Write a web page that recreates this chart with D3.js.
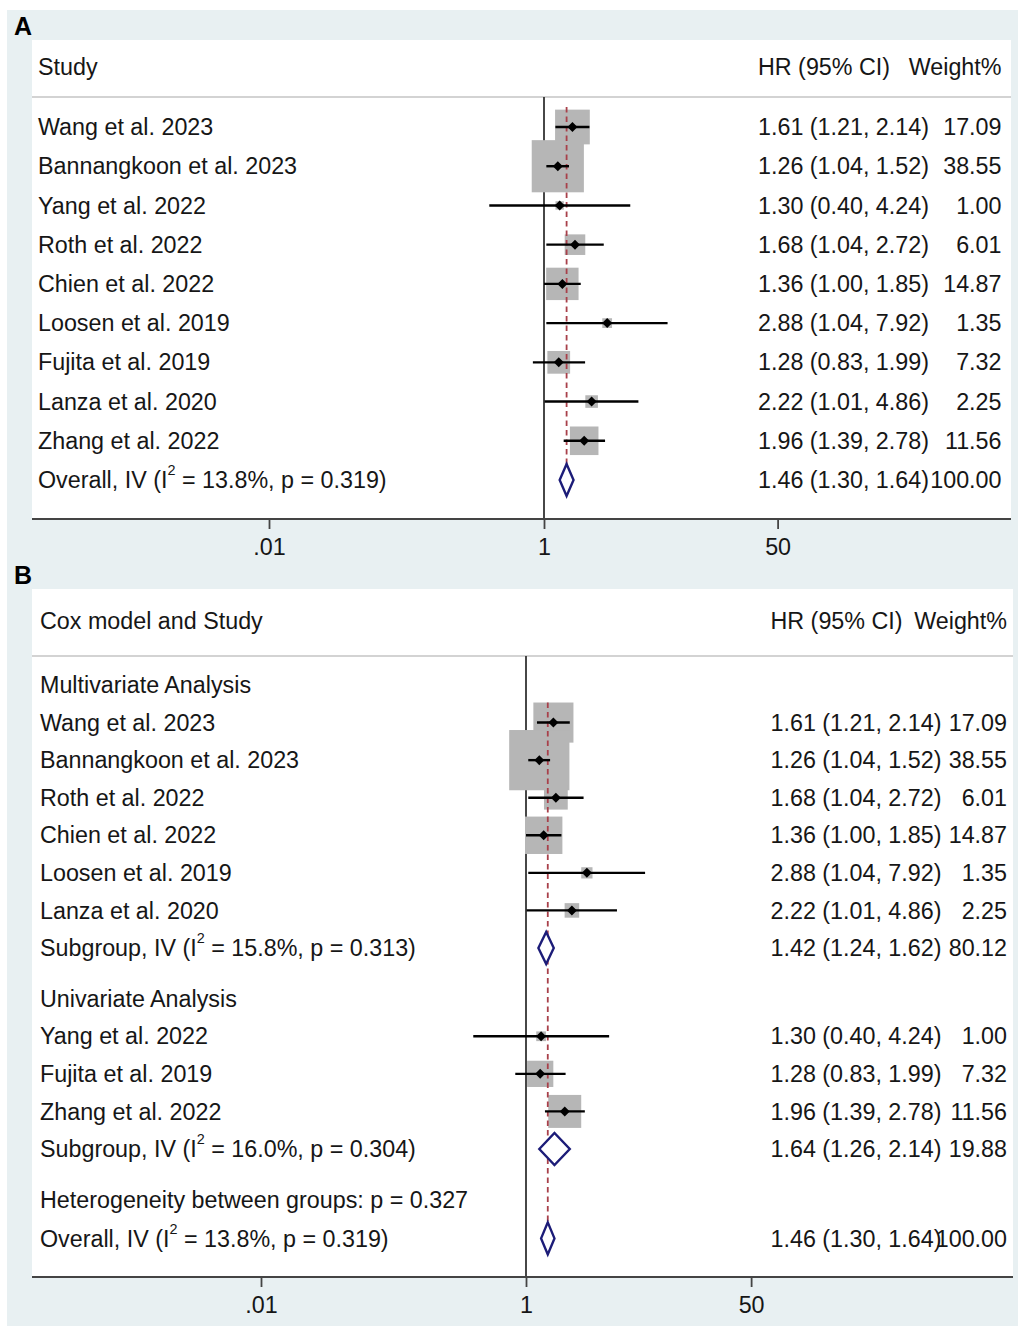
<!DOCTYPE html>
<html>
<head>
<meta charset="utf-8">
<script src="https://cdn.jsdelivr.net/npm/d3@7"></script>
<style>
  html, body { margin: 0; padding: 0; background: #ffffff; }
  svg { display: block; font-family: "Liberation Sans", Arial, Helvetica, sans-serif; }
</style>
</head>
<body>
<svg id="chart" width="1022" height="1326"></svg>
<script>
// ---- Study-level hazard ratios ----
const studyNames = ["Wang et al. 2023", "Bannangkoon et al. 2023", "Yang et al. 2022", "Roth et al. 2022",
  "Chien et al. 2022", "Loosen et al. 2019", "Fujita et al. 2019", "Lanza et al. 2020", "Zhang et al. 2022"];
const hrValues = [1.61, 1.26, 1.30, 1.68, 1.36, 2.88, 1.28, 2.22, 1.96];
const ciLower  = [1.21, 1.04, 0.40, 1.04, 1.00, 1.04, 0.83, 1.01, 1.39];
const ciUpper  = [2.14, 1.52, 4.24, 2.72, 1.85, 7.92, 1.99, 4.86, 2.78];
const weightPct = [17.09, 38.55, 1.00, 6.01, 14.87, 1.35, 7.32, 2.25, 11.56];
const coxModel = ["Multivariate", "Multivariate", "Univariate", "Multivariate", "Multivariate",
  "Multivariate", "Univariate", "Multivariate", "Univariate"];

// ---- Pooled estimates (inverse-variance) ----
const groupNames   = ["Multivariate", "Univariate"];
const groupTitles  = ["Multivariate Analysis", "Univariate Analysis"];
const groupHR      = [1.42, 1.64];
const groupLower   = [1.24, 1.26];
const groupUpper   = [1.62, 2.14];
const groupWeight  = [80.12, 19.88];
const groupI2      = [15.8, 16.0];
const groupP       = [0.313, 0.304];
const overall      = { hr: 1.46, lo: 1.30, hi: 1.64, weight: 100.00, i2: 13.8, p: 0.319 };
const heterogeneityBetweenP = 0.327;

// ---- Axis ticks ----
const tickValues = [0.01, 1, 50];
const tickLabels = [".01", "1", "50"];

const FONT = 23.3;
const INK = "#161616";
const svg = d3.select("#chart");

const fmt2 = d3.format(".2f");
const ciText = (h, l, u) => `${fmt2(h)} (${fmt2(l)}, ${fmt2(u)})`;

// Frame background
svg.append("rect").attr("x", 7).attr("y", 10).attr("width", 1011).attr("height", 1316).attr("fill", "#e8f0f2");

function pooledLabel(sel, prefix, i2, p) {
  sel.append("tspan").text(prefix + " (I");
  sel.append("tspan").attr("font-size", FONT * 0.62).attr("dy", "-0.9em").text("2");
  sel.append("tspan").attr("dy", "0.56em").text(` = ${i2.toFixed(1)}%, p = ${p.toFixed(3)})`);
}

function drawPanel(cfg) {
  const g = svg.append("g");
  const x = cfg.x;

  // Plot region
  g.append("rect").attr("x", cfg.left).attr("y", cfg.top)
    .attr("width", cfg.right - cfg.left).attr("height", cfg.axisY - cfg.top).attr("fill", "#ffffff");

  // Panel letter
  g.append("text").attr("x", 14).attr("y", cfg.top - 5).attr("font-size", 25).attr("font-weight", "bold")
    .attr("fill", "#000").text(cfg.letter);

  // Header
  g.append("line").attr("x1", cfg.left).attr("x2", cfg.right).attr("y1", cfg.headerLineY).attr("y2", cfg.headerLineY)
    .attr("stroke", "#c4c4c4").attr("stroke-width", 1.6);
  g.append("text").attr("x", cfg.textX).attr("y", cfg.headerY).attr("dy", "0.35em")
    .attr("font-size", FONT).attr("fill", INK).text(cfg.headerLeft);
  g.append("text").attr("x", cfg.ciX).attr("y", cfg.headerY).attr("dy", "0.35em")
    .attr("font-size", FONT).attr("fill", INK).text("HR (95% CI)");
  g.append("text").attr("x", cfg.wX).attr("y", cfg.headerY).attr("dy", "0.35em").attr("text-anchor", "end")
    .attr("font-size", FONT).attr("fill", INK).text("Weight%");

  // Line of no effect
  g.append("line").attr("x1", x(1)).attr("x2", x(1)).attr("y1", cfg.headerLineY).attr("y2", cfg.axisY)
    .attr("stroke", "#333").attr("stroke-width", 1.8);

  const rows = cfg.rows;
  const studyRows = rows.filter(r => r.type === "study");
  const diamondRows = rows.filter(r => r.type === "pooled");

  // Weight boxes
  g.selectAll("rect.box").data(studyRows).join("rect").attr("class", "box")
    .attr("x", r => x(r.hr) - cfg.k * Math.sqrt(r.w) / 2)
    .attr("y", r => r.y - cfg.k * Math.sqrt(r.w) / 2)
    .attr("width", r => cfg.k * Math.sqrt(r.w))
    .attr("height", r => cfg.k * Math.sqrt(r.w))
    .attr("fill", "#b6b6b6");

  // Overall effect reference line
  const overallRow = diamondRows[diamondRows.length - 1];
  g.append("line").attr("x1", x(overall.hr)).attr("x2", x(overall.hr))
    .attr("y1", studyRows[0].y - 20).attr("y2", overallRow.y + 16)
    .attr("stroke", "#a8404a").attr("stroke-width", 1.8).attr("stroke-dasharray", "5.5,4");

  // Confidence intervals
  g.selectAll("line.ci").data(studyRows).join("line").attr("class", "ci")
    .attr("x1", r => x(r.lo)).attr("x2", r => x(r.hi)).attr("y1", r => r.y).attr("y2", r => r.y)
    .attr("stroke", "#000").attr("stroke-width", 2.4);

  // Point estimates
  const m = 5;
  g.selectAll("path.pt").data(studyRows).join("path").attr("class", "pt")
    .attr("d", r => `M${x(r.hr) - m},${r.y}L${x(r.hr)},${r.y - m}L${x(r.hr) + m},${r.y}L${x(r.hr)},${r.y + m}Z`)
    .attr("fill", "#000");

  // Pooled diamonds
  g.selectAll("path.diamond").data(diamondRows).join("path").attr("class", "diamond")
    .attr("d", r => `M${x(r.lo)},${r.y}L${x(r.hr)},${r.y - 16}L${x(r.hi)},${r.y}L${x(r.hr)},${r.y + 16}Z`)
    .attr("fill", "#fff").attr("stroke", "#1c1c78").attr("stroke-width", 2.4).attr("stroke-linejoin", "miter");

  // Row labels
  rows.forEach(r => {
    const t = g.append("text").attr("x", cfg.textX).attr("y", r.y).attr("dy", "0.35em")
      .attr("font-size", FONT).attr("fill", INK);
    if (r.type === "pooled") pooledLabel(t, r.prefix, r.i2, r.p);
    else t.text(r.label);
    if (r.type === "study" || r.type === "pooled") {
      g.append("text").attr("x", cfg.ciX).attr("y", r.y).attr("dy", "0.35em")
        .attr("font-size", FONT).attr("fill", INK).text(ciText(r.hr, r.lo, r.hi));
      g.append("text").attr("x", cfg.wX).attr("y", r.y).attr("dy", "0.35em").attr("text-anchor", "end")
        .attr("font-size", FONT).attr("fill", INK).text(fmt2(r.w));
    }
  });

  // Axis
  g.append("line").attr("x1", cfg.left).attr("x2", cfg.right).attr("y1", cfg.axisY).attr("y2", cfg.axisY)
    .attr("stroke", "#444").attr("stroke-width", 2);
  const axis = d3.axisBottom(x).tickValues(tickValues)
    .tickFormat((d, i) => tickLabels[i]).tickSize(10).tickPadding(9);
  const ax = g.append("g").attr("transform", `translate(0,${cfg.axisY})`).call(axis);
  ax.select(".domain").remove();
  ax.selectAll(".tick line").attr("stroke", "#444").attr("stroke-width", 1.8);
  ax.selectAll(".tick text").attr("font-size", FONT).attr("fill", INK)
    .attr("font-family", "\"Liberation Sans\", Arial, sans-serif");
}

// ---- Panel A: all studies ----
const yA = d3.scaleLinear().domain([0, 9]).range([127, 480]);
const rowsA = studyNames.map((name, i) => ({
  type: "study", label: name, hr: hrValues[i], lo: ciLower[i], hi: ciUpper[i], w: weightPct[i], y: yA(i)
}));
rowsA.push({ type: "pooled", prefix: "Overall, IV", hr: overall.hr, lo: overall.lo, hi: overall.hi,
  w: overall.weight, i2: overall.i2, p: overall.p, y: yA(9) });

drawPanel({
  letter: "A", top: 40, left: 32, right: 1011, axisY: 519, headerLineY: 97, headerY: 67,
  headerLeft: "Study", textX: 38, ciX: 758, wX: 1001.5, k: 8.4,
  x: d3.scaleLog().domain([0.01, 1]).range([269, 544]),
  rows: rowsA
});

// ---- Panel B: by Cox model ----
const yB = d3.scaleLinear().domain([0, 1]).range([685, 685 + 37.57]);
const rowsB = [];
let u = 0;
groupNames.forEach((grp, gi) => {
  rowsB.push({ type: "group", label: groupTitles[gi], y: yB(u) });
  u += 1;
  studyNames.forEach((name, i) => {
    if (coxModel[i] !== grp) return;
    rowsB.push({ type: "study", label: name, hr: hrValues[i], lo: ciLower[i], hi: ciUpper[i], w: weightPct[i], y: yB(u) });
    u += 1;
  });
  rowsB.push({ type: "pooled", prefix: "Subgroup, IV", hr: groupHR[gi], lo: groupLower[gi], hi: groupUpper[gi],
    w: groupWeight[gi], i2: groupI2[gi], p: groupP[gi], y: yB(u) });
  u += 1.35;
});
rowsB.push({ type: "note", label: `Heterogeneity between groups: p = ${heterogeneityBetweenP.toFixed(3)}`, y: yB(u) });
u += 1.03;
rowsB.push({ type: "pooled", prefix: "Overall, IV", hr: overall.hr, lo: overall.lo, hi: overall.hi,
  w: overall.weight, i2: overall.i2, p: overall.p, y: yB(u) });

drawPanel({
  letter: "B", top: 589, left: 32, right: 1013, axisY: 1277, headerLineY: 656, headerY: 621,
  headerLeft: "Cox model and Study", textX: 40, ciX: 770.5, wX: 1007, k: 9.7,
  x: d3.scaleLog().domain([0.01, 1]).range([261, 526]),
  rows: rowsB
});
</script>
</body>
</html>
